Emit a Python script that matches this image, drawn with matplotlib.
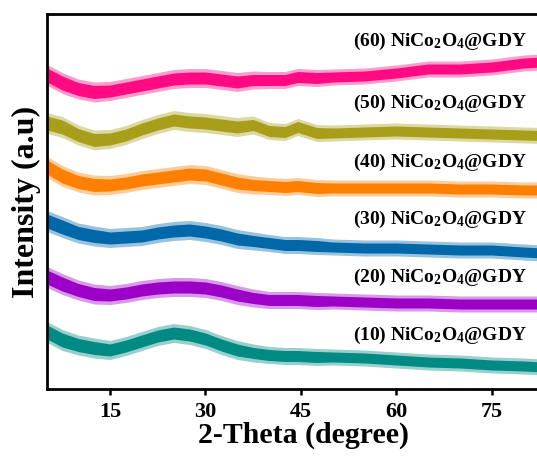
import matplotlib
matplotlib.use("Agg")
import matplotlib.pyplot as plt

plt.rcParams["font.family"] = ["Liberation Serif", "DejaVu Serif"]
plt.rcParams["font.weight"] = "bold"
plt.rcParams["mathtext.fontset"] = "custom"
plt.rcParams["mathtext.rm"] = "Liberation Serif:bold"
plt.rcParams["mathtext.default"] = "rm"

# 2-theta sample positions (degree)
two_theta = [5.1, 7.5, 10, 12.5, 15, 17.5, 20, 22.5, 25, 27.5, 30, 32.5, 35, 37.5,
             40, 42.5, 44.5, 47.5, 50, 55, 60, 65, 70, 75, 80, 85.7]

# stacked patterns (offset intensity, a.u.)
gdy_60 = [314, 306, 300, 297, 298, 301, 304, 307, 310, 311, 311, 309, 307, 309,
          309, 309, 312, 311, 312, 313, 316, 320, 320, 322, 326, 328]
gdy_50 = [266, 262, 254, 249, 250, 254, 260, 265, 269, 267, 266, 264, 262, 264,
          258, 257, 262, 256, 256, 257, 258, 257, 256, 255, 254, 253]
gdy_40 = [222, 213, 207, 204, 204, 206, 209, 211, 213, 215, 214, 210, 206, 204,
          203, 202, 203, 201, 201, 201, 201, 201, 200, 200, 199, 199]
gdy_30 = [168, 162, 156, 153, 151, 152, 153, 156, 158, 159, 157, 154, 150, 148,
          146, 144, 144, 143, 142, 141, 141, 140, 139, 139, 137, 135]
gdy_20 = [112, 105, 99, 95, 94, 96, 99, 101, 102, 102, 101, 98, 94, 91,
          89, 89, 89, 88, 88, 87, 86, 86, 85, 85, 85, 85]
gdy_10 = [57, 49, 44, 41, 39, 43, 48, 53, 56, 54, 50, 44, 39, 36,
          34, 33, 33, 32, 32, 31, 29, 27, 26, 24, 23, 21]

# half-width of the dense noise band, and of the sparser spikes beyond it
noise = [7, 7, 6.5, 6.5, 6, 6, 6, 6, 6, 6, 6, 6, 6, 5.5,
         5.5, 5.5, 5.5, 5.5, 5, 5, 5, 5, 5, 5, 5, 5]
spikes = [3.5, 3.5, 3.5, 3.5, 3.5, 3.5, 3.5, 3.5, 3.5, 3.5, 3.5, 3.5, 3.5, 3.5,
          3, 3, 3, 3, 3, 3, 3, 3, 3, 3, 3, 3]

names = ["(60) NiCo$_2$O$_4$@GDY", "(50) NiCo$_2$O$_4$@GDY", "(40) NiCo$_2$O$_4$@GDY",
         "(30) NiCo$_2$O$_4$@GDY", "(20) NiCo$_2$O$_4$@GDY", "(10) NiCo$_2$O$_4$@GDY"]
label_y = [348, 286, 227, 170, 112, 54]
series = [gdy_60, gdy_50, gdy_40, gdy_30, gdy_20, gdy_10]
colors = ["#ff0a82", "#a89e1a", "#ff8000", "#0068a8", "#9c00c6", "#008a84"]

fig = plt.figure(figsize=(5.37, 4.61), dpi=100)
ax = fig.add_axes([47 / 537, 72 / 461, 513 / 537, 375 / 461])

for y, c in zip(series, colors):
    lo = [v - n for v, n in zip(y, noise)]
    hi = [v + n for v, n in zip(y, noise)]
    lo2 = [v - n - s for v, n, s in zip(y, noise, spikes)]
    hi2 = [v + n + s for v, n, s in zip(y, noise, spikes)]
    # sparse spikes as a lighter fringe around the solid noise band
    ax.fill_between(two_theta, lo2, hi2, color=c, alpha=0.4, linewidth=0)
    ax.fill_between(two_theta, lo, hi, color=c, linewidth=0)

for name, ly in zip(names, label_y):
    ax.text(80.5, ly, name, ha="right", va="center", fontsize=14, fontweight="bold")

ax.set_xlim(5.1, 85.7)
ax.set_ylim(0, 375)
ax.set_xticks([15, 30, 45, 60, 75])
ax.set_yticks([])
ax.tick_params(axis="x", direction="out", length=4, width=1.8, labelsize=16, pad=5)
for s in ax.spines.values():
    s.set_linewidth(2)

ax.set_xlabel("2-Theta (degree)", fontsize=21.5, fontweight="bold", labelpad=0)
ax.set_ylabel("Intensity (a.u)", fontsize=23, fontweight="bold", labelpad=4)

fig.savefig("out.png", dpi=100)
